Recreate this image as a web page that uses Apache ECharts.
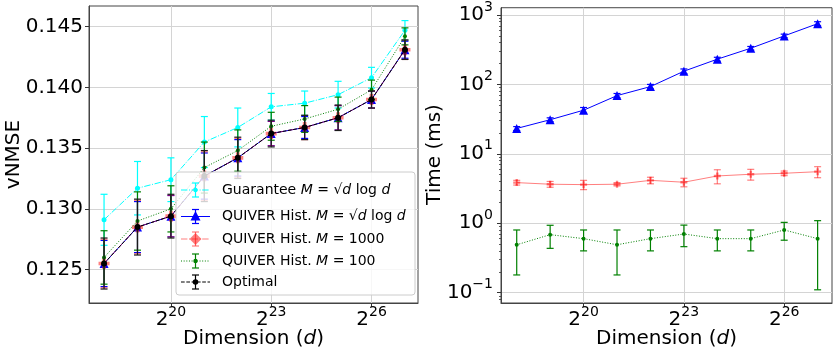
<!DOCTYPE html>
<html><head><meta charset="utf-8">
<script src="https://cdn.jsdelivr.net/npm/echarts@6/dist/echarts.min.js"></script>
<style>html,body{margin:0;padding:0;background:#fff}#c{width:835px;height:350px}</style>
</head><body><div id="c"></div>
<script>
// ---- data ----
const exps = [18, 19, 20, 21, 22, 23, 24, 25, 26, 27];   // d = 2^exp
const xTicks = [20, 23, 26];
const nmseTicks = [0.125, 0.130, 0.135, 0.140, 0.145];
const timeTicks = [0.1, 1, 10, 100, 1000];

const guarantee      = [0.1291, 0.1317, 0.1324, 0.1355, 0.1367, 0.1384, 0.1387, 0.1394, 0.1408, 0.1447];
const guaranteeErr   = [0.0021, 0.0022, 0.0018, 0.0021, 0.0016, 0.0011, 0.0010, 0.0011, 0.00085, 0.0008];
const quiverSqrt     = [0.1255, 0.1285, 0.1294, 0.1327, 0.1342, 0.1362, 0.1367, 0.1375, 0.1390, 0.1431];
const quiverSqrtErr  = [0.0019, 0.0021, 0.0017, 0.0019, 0.0015, 0.0010, 0.0009, 0.0010, 0.0007, 0.0007];
const quiver1000     = [0.1255, 0.1285, 0.1294, 0.1327, 0.1342, 0.1362, 0.1367, 0.1375, 0.1390, 0.1431];
const quiver1000Err  = [0.0020, 0.0022, 0.0017, 0.0020, 0.0016, 0.0010, 0.0010, 0.0010, 0.0007, 0.0008];
const quiver100      = [0.1260, 0.1290, 0.1300, 0.1334, 0.1348, 0.1368, 0.1374, 0.1382, 0.1398, 0.1442];
const quiver100Err   = [0.0022, 0.0024, 0.0019, 0.0021, 0.0017, 0.00115, 0.0011, 0.0010, 0.0008, 0.0007];
const optimal        = [0.1255, 0.1285, 0.1294, 0.1327, 0.1342, 0.1362, 0.1367, 0.1375, 0.1390, 0.1431];
const optimalErr     = [0.0021, 0.0023, 0.0018, 0.0021, 0.0017, 0.0011, 0.0010, 0.00105, 0.0007, 0.0008];

const timeSqrt       = [23.2, 31, 42.5, 69, 93, 155, 231, 332, 500, 750];
const timeSqrtErr    = [1.5, 2, 4, 5, 7, 12, 15, 20, 30, 50];
const time1000       = [3.85, 3.65, 3.6, 3.65, 4.15, 3.9, 4.8, 5.08, 5.25, 5.53];
const time1000Err    = [0.3, 0.35, 0.55, 0.2, 0.45, 0.55, 1.1, 0.9, 0.4, 1.0];
const time100        = [0.49, 0.685, 0.6, 0.49, 0.6, 0.7, 0.6, 0.6, 0.8, 0.6];
const time100Err     = [0.31, 0.25, 0.2, 0.31, 0.2, 0.24, 0.2, 0.2, 0.23, 0.49];

// ---- chart ----
const FONT = 'DejaVu Sans';
const chart = echarts.init(document.getElementById('c'), null, {renderer: 'canvas'});

const pts = (ys) => exps.map((x, i) => [x, ys[i]]);
const errPts = (ys, es) => exps.map((x, i) => [x, ys[i], es[i]]);

const minorTicks = [];
for (let p = -2; p <= 3; p++) for (let k = 2; k <= 9; k++) minorTicks.push(k * Math.pow(10, p));

const PLUS = 'path://M1,0H2V1H3V2H2V3H1V2H0V1H1Z';

function errSeries(xi, yi, ys, es, color, z) {
  return {
    type: 'custom', xAxisIndex: xi, yAxisIndex: yi, z: z, silent: true,
    data: errPts(ys, es),
    renderItem: function (params, api) {
      const x = api.value(0), y = api.value(1), e = api.value(2);
      const lo = api.coord([x, Math.max(y - e, 1e-9)]);
      const hi = api.coord([x, y + e]);
      const st = {stroke: color, lineWidth: 1.2};
      const cw = 3.5;
      return {type: 'group', children: [
        {type: 'line', shape: {x1: lo[0], y1: lo[1], x2: hi[0], y2: hi[1]}, style: st},
        {type: 'line', shape: {x1: lo[0] - cw, y1: lo[1], x2: lo[0] + cw, y2: lo[1]}, style: st},
        {type: 'line', shape: {x1: hi[0] - cw, y1: hi[1], x2: hi[0] + cw, y2: hi[1]}, style: st}
      ]};
    }
  };
}
function lineSeries(xi, yi, ys, color, dash, symbol, size, opacity, z, width) {
  return {
    type: 'line', xAxisIndex: xi, yAxisIndex: yi, z: z, silent: true,
    data: pts(ys), symbol: symbol, symbolSize: size, showSymbol: true,
    lineStyle: {color: color, width: width || 1, type: dash, opacity: opacity},
    itemStyle: {color: color, opacity: opacity, borderWidth: 0},
    animation: false
  };
}

const CYAN = '#00ffff', BLUE = '#0000ff', RED = '#ff0000', GREEN = '#008000', BLACK = '#000000';
const DASHDOT = [6.4, 1.6, 1, 1.6], DOTTED = [1, 1.65], DASHED = [3.7, 1.6];

const supLabel = (base) => (v) => {
  const e = Math.round(base === 2 ? v : Math.log10(v));
  const s = e < 0 ? '\u2212' + Math.abs(e) : String(e);
  return '{b|' + (base === 2 ? '2' : '10') + '}{s|' + s + '}';
};
const supRich = {
  b: {fontFamily: FONT, fontSize: 20, color: '#000', lineHeight: 30},
  s: {fontFamily: FONT, fontSize: 14, color: '#000', lineHeight: 12, verticalAlign: 'top'}
};

const gridLine = {show: true, lineStyle: {color: '#d4d4d4', width: 1}};
const axLine = {show: true, lineStyle: {color: '#444', width: 1}};
const tick = (vals) => ({show: true, length: 4, lineStyle: {color: '#333', width: 1}, customValues: vals});

function xAxis(gi, min, max) {
  return {
    type: 'value', gridIndex: gi, min: min, max: max,
    axisLine: axLine, splitLine: gridLine, axisTick: tick(xTicks),
    axisLabel: {customValues: xTicks, formatter: supLabel(2), rich: supRich, margin: 2}
  };
}

const legendEntries = [
  {color: CYAN, dash: DASHDOT, marker: 'dot', text: '{n|Guarantee }{i|M}{n| = √}{i|d}{n| log }{i|d}'},
  {color: BLUE, dash: null, marker: 'tri', text: '{n|QUIVER Hist. }{i|M}{n| = √}{i|d}{n| log }{i|d}'},
  {color: RED, dash: DASHDOT, marker: 'plus', text: '{n|QUIVER Hist. }{i|M}{n| = 1000}', op: 0.5},
  {color: GREEN, dash: DOTTED, marker: 'dot', text: '{n|QUIVER Hist. }{i|M}{n| = 100}'},
  {color: BLACK, dash: DASHED, marker: 'dot', text: '{n|Optimal}'}
];
const legendRows = [190, 216.5, 239, 261, 282];
const legendRich = {
  n: {fontFamily: FONT, fontSize: 14, color: '#000'},
  i: {fontFamily: FONT, fontSize: 14, fontStyle: 'italic', color: '#000'}
};
const legendGraphics = [{
  type: 'rect', shape: {x: 176, y: 172, width: 239, height: 123, r: 3},
  style: {fill: 'rgba(255,255,255,0.8)', stroke: '#cccccc', lineWidth: 1}, z: 100
}];
legendEntries.forEach((en, k) => {
  const y = legendRows[k], x1 = 181, x2 = 210, cx = 195.5;
  const op = en.op || 1;
  const st = {stroke: en.color, lineWidth: 1.2, opacity: op};
  legendGraphics.push({type: 'line', shape: {x1: x1, y1: y, x2: x2, y2: y},
    style: {stroke: en.color, lineWidth: 1, lineDash: en.dash, opacity: op}, z: 101});
  legendGraphics.push({type: 'line', shape: {x1: cx, y1: y - 7, x2: cx, y2: y + 7}, style: st, z: 101});
  legendGraphics.push({type: 'line', shape: {x1: cx - 3.5, y1: y - 7, x2: cx + 3.5, y2: y - 7}, style: st, z: 101});
  legendGraphics.push({type: 'line', shape: {x1: cx - 3.5, y1: y + 7, x2: cx + 3.5, y2: y + 7}, style: st, z: 101});
  if (en.marker === 'dot') {
    legendGraphics.push({type: 'circle', shape: {cx: cx, cy: y, r: en.color === BLACK ? 2.8 : 2.2},
      style: {fill: en.color}, z: 102});
  } else if (en.marker === 'tri') {
    legendGraphics.push({type: 'polygon', shape: {points: [[cx, y - 5.5], [cx - 5, y + 4], [cx + 5, y + 4]]},
      style: {fill: en.color}, z: 102});
  } else {
    legendGraphics.push({type: 'polygon', shape: {points: [[cx, y - 6], [cx + 6, y], [cx, y + 6], [cx - 6, y]]},
      style: {fill: en.color, opacity: 0.5}, z: 102});
  }
  legendGraphics.push({type: 'text', x: 222, y: y, z: 102,
    style: {text: en.text, rich: legendRich, verticalAlign: 'middle', align: 'left'}});
});

const option = {
  animation: false,
  backgroundColor: '#fff',
  grid: [
    {left: 89, top: 6, width: 329, height: 297, show: true, borderColor: '#444', borderWidth: 1},
    {left: 501, top: 6, width: 331, height: 297, show: true, borderColor: '#444', borderWidth: 1}
  ],
  xAxis: [xAxis(0, 17.55, 27.39), xAxis(1, 17.53, 27.43)],
  yAxis: [
    {type: 'value', gridIndex: 0, min: 0.12225, max: 0.1467,
      axisLine: axLine, splitLine: gridLine, axisTick: tick(nmseTicks),
      axisLabel: {customValues: nmseTicks, formatter: (v) => v.toFixed(3), fontFamily: FONT, fontSize: 20, color: '#000', margin: 6}},
    {type: 'log', logBase: 10, gridIndex: 1, min: 0.071, max: 1273, position: 'left',
      axisLine: axLine, splitLine: gridLine, axisTick: tick(timeTicks),
      axisLabel: {customValues: timeTicks, formatter: supLabel(10), rich: supRich, margin: 8}},
    {type: 'log', logBase: 10, gridIndex: 1, min: 0.071, max: 1273, position: 'left', offset: 0,
      axisLine: {show: false}, splitLine: {show: false},
      axisTick: {show: true, inside: false, length: 2, lineStyle: {color: '#333', width: 0.8}, customValues: minorTicks},
      axisLabel: {show: false}}
  ],
  series: [
    errSeries(0, 0, guarantee, guaranteeErr, CYAN, 2),
    lineSeries(0, 0, guarantee, CYAN, DASHDOT, 'circle', 5, 1, 2),
    errSeries(0, 0, quiverSqrt, quiverSqrtErr, BLUE, 3),
    lineSeries(0, 0, quiverSqrt, BLUE, 'solid', 'triangle', 9, 1, 3),
    errSeries(0, 0, quiver1000, quiver1000Err, 'rgba(255,0,0,0.5)', 4),
    lineSeries(0, 0, quiver1000, RED, DASHDOT, PLUS, 11, 0.5, 4),
    errSeries(0, 0, quiver100, quiver100Err, GREEN, 5),
    lineSeries(0, 0, quiver100, GREEN, DOTTED, 'circle', 4, 1, 5),
    errSeries(0, 0, optimal, optimalErr, '#1a1a1a', 6),
    lineSeries(0, 0, optimal, BLACK, DASHED, 'circle', 6, 1, 6),

    errSeries(1, 1, timeSqrt, timeSqrtErr, BLUE, 3),
    lineSeries(1, 1, timeSqrt, BLUE, 'solid', 'triangle', 9, 1, 3),
    errSeries(1, 1, time1000, time1000Err, 'rgba(255,0,0,0.5)', 4),
    lineSeries(1, 1, time1000, RED, 'solid', PLUS, 7, 0.5, 4),
    errSeries(1, 1, time100, time100Err, GREEN, 5),
    lineSeries(1, 1, time100, GREEN, DOTTED, 'circle', 4, 1, 5)
  ],
  graphic: [
    {type: 'text', x: 14, y: 154.5, rotation: Math.PI / 2, z: 50,
      style: {text: 'vNMSE', font: '20px "DejaVu Sans"', fill: '#000', align: 'center', verticalAlign: 'middle'}},
    {type: 'text', x: 435, y: 154.5, rotation: Math.PI / 2, z: 50,
      style: {text: 'Time (ms)', font: '20px "DejaVu Sans"', fill: '#000', align: 'center', verticalAlign: 'middle'}},
    {type: 'text', x: 253.5, y: 339, z: 50,
      style: {text: '{n|Dimension (}{i|d}{n|)}', align: 'center', verticalAlign: 'middle',
        rich: {n: {fontFamily: FONT, fontSize: 20, color: '#000'}, i: {fontFamily: FONT, fontSize: 20, fontStyle: 'italic', color: '#000'}}}},
    {type: 'text', x: 666.5, y: 339, z: 50,
      style: {text: '{n|Dimension (}{i|d}{n|)}', align: 'center', verticalAlign: 'middle',
        rich: {n: {fontFamily: FONT, fontSize: 20, color: '#000'}, i: {fontFamily: FONT, fontSize: 20, fontStyle: 'italic', color: '#000'}}}}
  ].concat(legendGraphics)
};
chart.setOption(option);
</script>
</body></html>
